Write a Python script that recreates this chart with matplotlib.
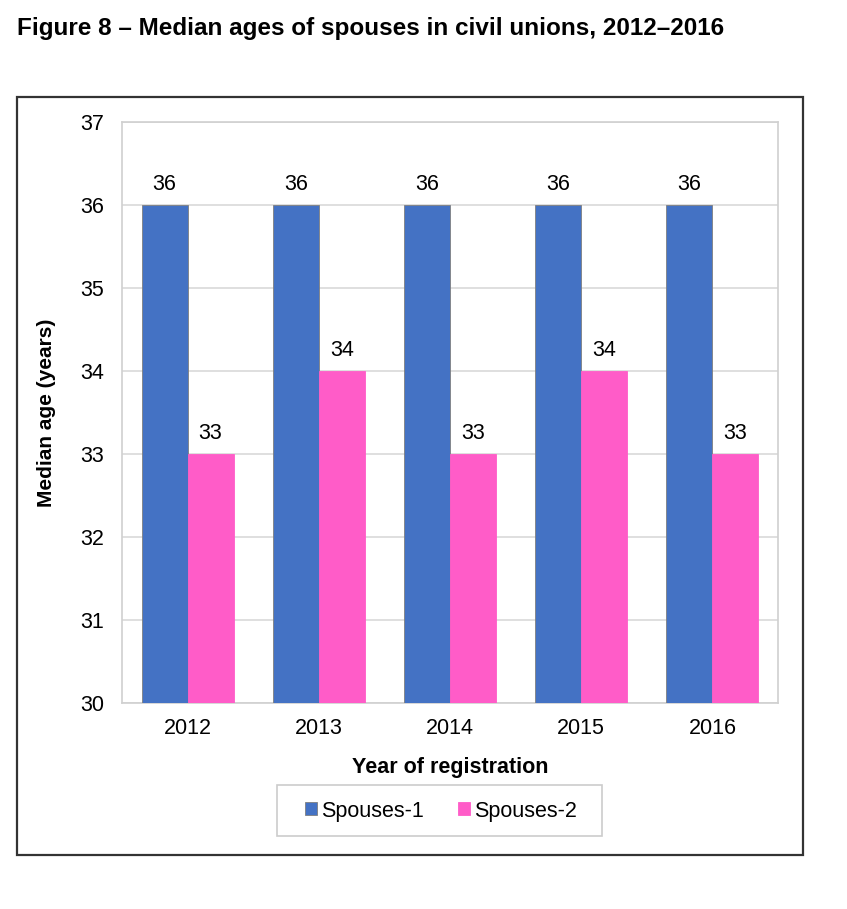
import numpy as np
import matplotlib.pyplot as plt
from matplotlib.patches import Rectangle

plt.rcParams['font.family'] = ['Liberation Sans', 'DejaVu Sans']

years = ["2012", "2013", "2014", "2015", "2016"]
spouses1 = [36, 36, 36, 36, 36]
spouses2 = [33, 34, 33, 34, 33]

W, H = 847, 909
fig = plt.figure(figsize=(W / 100, H / 100), dpi=100)

# outer frame round the chart
fig.patches.append(Rectangle((17 / W, 1 - 855 / H), (803 - 17) / W, (855 - 97) / H,
                             transform=fig.transFigure, fill=False,
                             edgecolor="#333333", linewidth=1.6))
# legend frame, drawn by hand for wider side padding
fig.patches.append(Rectangle((277 / W, 1 - 836 / H), (602 - 277) / W, (836 - 785) / H,
                             transform=fig.transFigure, fill=False,
                             edgecolor="#cccccc", linewidth=1.2))

fig.text(17 / W, 1 - 28 / H, "Figure 8 \u2013 Median ages of spouses in civil unions, 2012\u20132016",
         fontsize=17.5, fontweight="bold", va="center", ha="left")

ax = fig.add_axes([122 / W, 1 - 703 / H, (778 - 122) / W, (703 - 122) / H])

x = np.arange(len(years))
w = 0.35
b1 = ax.bar(x - w / 2, np.array(spouses1) - 30, w, bottom=30, color="#4472C4",
            edgecolor="#7f7f7f", linewidth=0.6, label="Spouses-1", zorder=3)
b2 = ax.bar(x + w / 2, np.array(spouses2) - 30, w, bottom=30, color="#FF5CC8",
            edgecolor="#FF5CC8", linewidth=0.6, label="Spouses-2", zorder=3)

for bars, vals in ((b1, spouses1), (b2, spouses2)):
    for r, v in zip(bars, vals):
        ax.text(r.get_x() + r.get_width() / 2, v + 0.12, str(v), ha="center", va="bottom",
                fontsize=15.5)

ax.set_xlim(-0.5, len(years) - 0.5)
ax.set_ylim(30, 37)
ax.set_yticks(range(30, 38))
ax.set_xticks(x)
ax.set_xticklabels(years)
ax.tick_params(axis="both", length=0, labelsize=15.5)
ax.tick_params(axis="y", pad=13)
ax.tick_params(axis="x", pad=11)
ax.yaxis.grid(True, color="#d9d9d9", linewidth=1.2, zorder=0)
for s in ax.spines.values():
    s.set_color("#d0d0d0")
    s.set_linewidth(1.2)

ax.set_xlabel("Year of registration", fontsize=15.5, fontweight="bold", labelpad=13)
ax.set_ylabel("Median age (years)", fontsize=15, fontweight="bold", labelpad=17)

leg = ax.legend(loc="center", bbox_to_anchor=(441 / W, 1 - 811 / H),
                bbox_transform=fig.transFigure, ncol=2, fontsize=15.5, frameon=False,
                handlelength=0.55, handleheight=0.55,
                handletextpad=0.2, columnspacing=1.6, borderpad=0, borderaxespad=0)

fig.savefig("out.png", dpi=100)
